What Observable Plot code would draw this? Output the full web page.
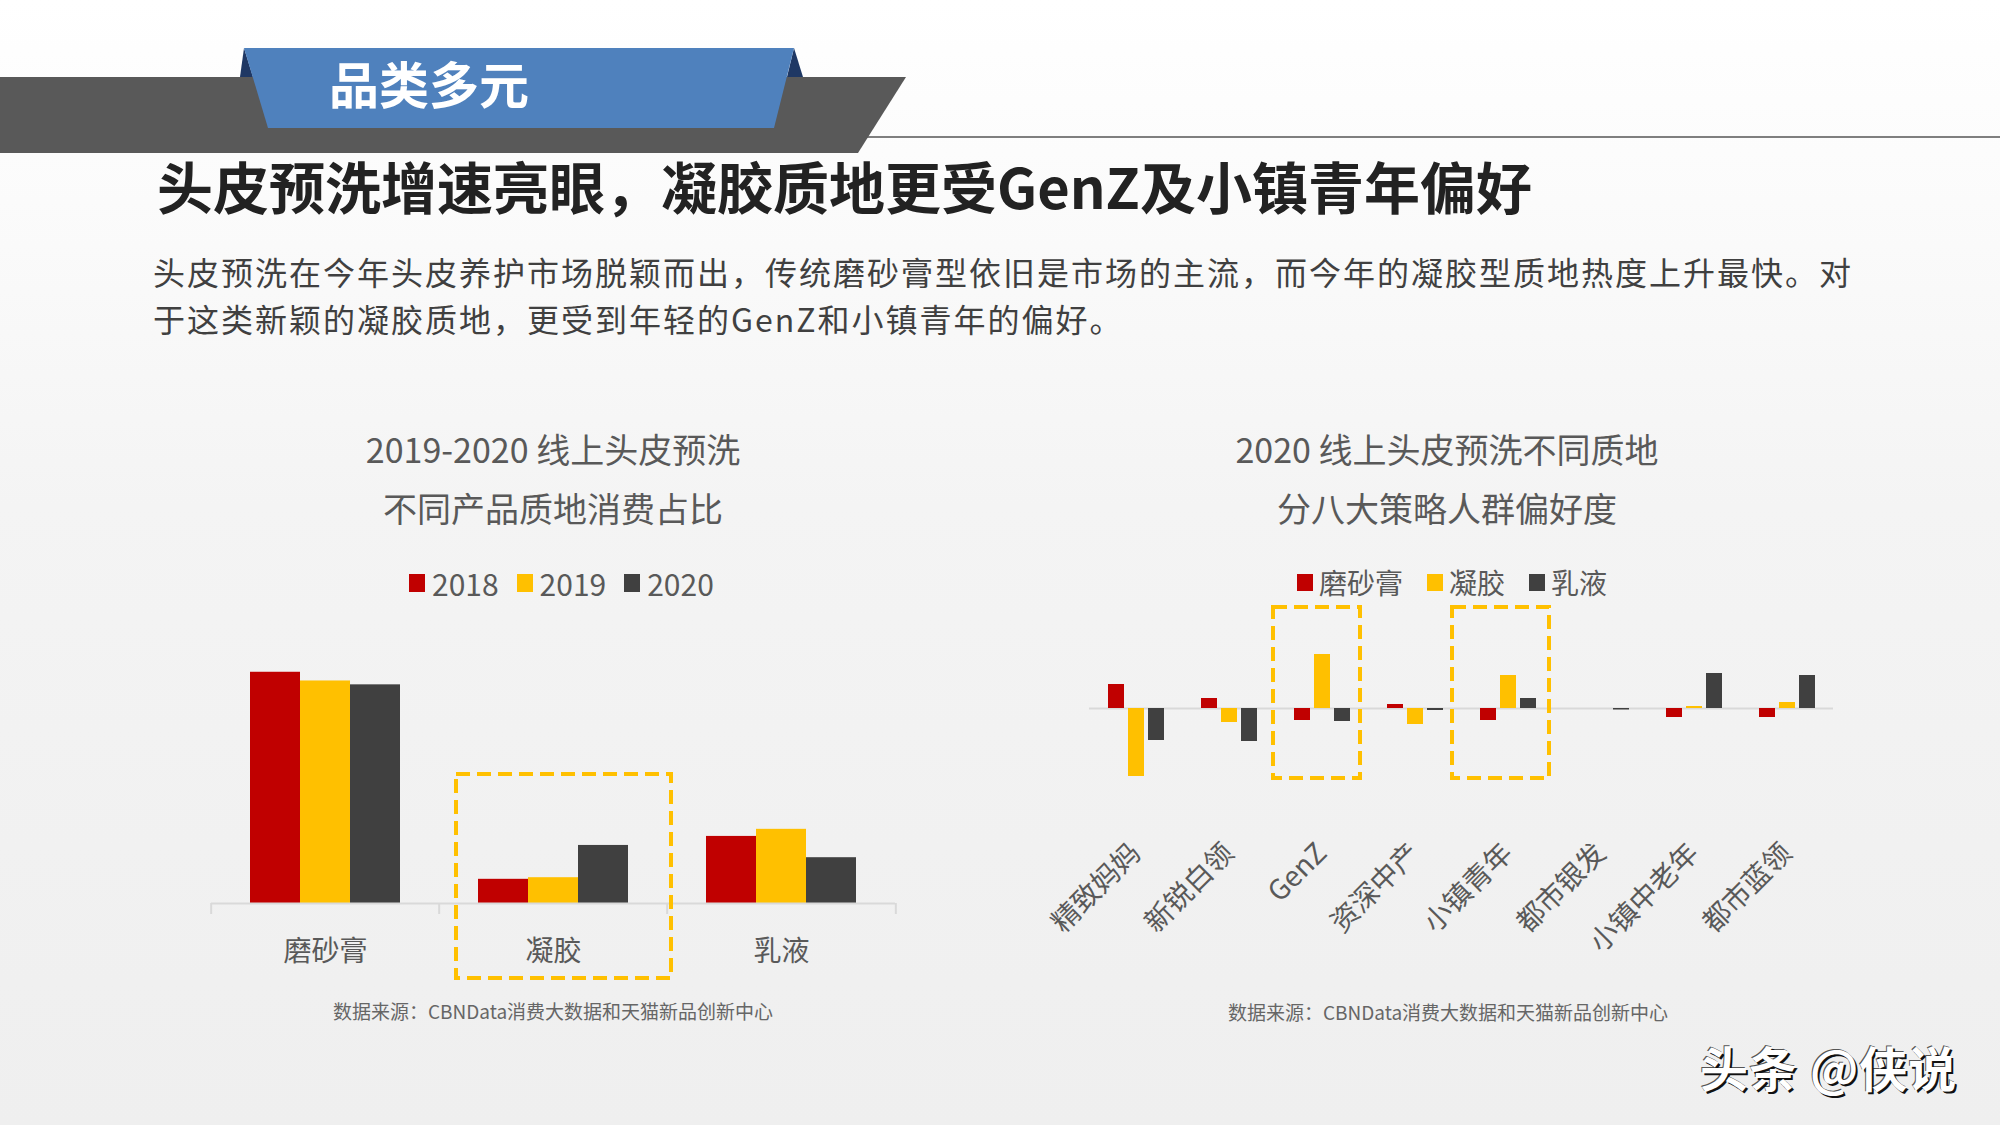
<!DOCTYPE html>
<html>
<head>
<meta charset="utf-8">
<script src="https://cdn.jsdelivr.net/npm/d3@7"></script>
<script src="https://cdn.jsdelivr.net/npm/@observablehq/plot@0.6"></script>
<style>
  html, body { margin: 0; padding: 0; }
  body { width: 2000px; height: 1125px; overflow: hidden; font-family: "Noto Sans CJK SC", "Noto Sans", sans-serif; }
  #page { position: relative; width: 2000px; height: 1125px; overflow: hidden;
          background: linear-gradient(to bottom, #ffffff 0%, #fbfbfb 18%, #f4f4f4 45%, #f1f1f1 75%, #efefef 100%); }
  .abs { position: absolute; }
  .banner-text { left: 329px; top: 52px; line-height: 60px; font-size: 50px; font-weight: 700; color: #ffffff; letter-spacing: 0px; }
  .headline { left: 157px; top: 150px; line-height: 70px; font-size: 56px; font-weight: 700; color: #222222; white-space: nowrap; }
  .para { left: 153px; line-height: 47px; font-size: 32px; letter-spacing: 2px; color: #404040; white-space: nowrap; }
  .ctitle { width: 640px; text-align: center; font-size: 34px; line-height: 59px; color: #595959; white-space: nowrap; }
  .legend { display: flex; align-items: center; height: 40px; }
  .legend .item { display: flex; align-items: center; }
  .legend .sw { display: inline-block; }
  .legend .lb { color: #595959; line-height: 40px; }
  .source { width: 640px; text-align: center; font-size: 19px; line-height: 26px; color: #666666; white-space: nowrap; }
  .mark { left: 1700px; top: 1036px; font-size: 48px; line-height: 60px; color: #ffffff; font-weight: 700; white-space: nowrap;
          text-shadow: 2px 2px 0 #111, -1px -1px 0 #555; letter-spacing: 1px; }
</style>
</head>
<body>
<div id="page">
  <svg class="abs" style="left:0;top:0" width="2000" height="170">
    <line x1="866" y1="137" x2="2000" y2="137" stroke="#7f7f7f" stroke-width="2"/>
    <polygon points="0,77 906,77 858,153 0,153" fill="#595959"/>
    <polygon points="244,48 240,77 253,77" fill="#1f3864"/>
    <polygon points="794,48 803,77 787,77" fill="#1f3864"/>
    <polygon points="244,48 794,48 774,128 268,128" fill="#4f81bd"/>
  </svg>
  <div class="abs banner-text">品类多元</div>
  <div class="abs headline">头皮预洗增速亮眼，凝胶质地更受GenZ及小镇青年偏好</div>
  <div class="abs para" style="top:248px;">头皮预洗在今年头皮养护市场脱颖而出，传统磨砂膏型依旧是市场的主流，而今年的凝胶型质地热度上升最快。对</div>
  <div class="abs para" style="top:295px;">于这类新颖的凝胶质地，更受到年轻的GenZ和小镇青年的偏好。</div>

  <div class="abs ctitle" style="left:233px; top:419px;">2019-2020 线上头皮预洗<br>不同产品质地消费占比</div>
  <div class="abs ctitle" style="left:1127px; top:419px;">2020 线上头皮预洗不同质地<br>分八大策略人群偏好度</div>

  <div class="abs legend" id="legendLeft" style="left:409px; top:563px; gap:18px;"></div>
  <div class="abs legend" id="legendRight" style="left:1297px; top:562px; gap:24px;"></div>

  <div class="abs" id="leftChart" style="left:160px; top:600px;"></div>
  <div class="abs" id="rightChart" style="left:1050px; top:590px;"></div>

  <div class="abs source" style="left:233px; top:998px;">数据来源：CBNData消费大数据和天猫新品创新中心</div>
  <div class="abs source" style="left:1128px; top:999px;">数据来源：CBNData消费大数据和天猫新品创新中心</div>

  <div class="abs mark">头条 @侠说</div>
</div>

<script>
// ---------------- data: left chart (consumption share, %) ----------------
const categories = ["磨砂膏", "凝胶", "乳液"];
const years = ["2018", "2019", "2020"];
const share2018 = [71.7, 7.5, 20.8];
const share2019 = [69.0, 8.0, 23.0];
const share2020 = [67.8, 18.0, 14.2];

// ---------------- data: right chart (preference index by group) ----------------
const groups = ["精致妈妈", "新锐白领", "GenZ", "资深中产", "小镇青年", "都市银发", "小镇中老年", "都市蓝领"];
const textures = ["磨砂膏", "凝胶", "乳液"];
const prefScrub  = [2.4, 1.0, -1.2, 0.4, -1.2, 0.0, -0.9, -0.9];
const prefGel    = [-6.8, -1.4, 5.4, -1.6, 3.3, 0.0, 0.2, 0.6];
const prefLotion = [-3.2, -3.3, -1.3, -0.2, 1.0, -0.15, 3.5, 3.3];

const palette = ["#C00000", "#FFC000", "#404040"];
const FONT = '"Noto Sans CJK SC", "Noto Sans", sans-serif';

// ---------------- build tables ----------------
const leftRows = [];
[share2018, share2019, share2020].forEach((arr, k) =>
  arr.forEach((v, i) => leftRows.push({cat: categories[i], year: years[k], value: v})));

const rightRows = [];
[prefScrub, prefGel, prefLotion].forEach((arr, k) =>
  arr.forEach((v, i) => rightRows.push({group: groups[i], texture: textures[k], value: v})));

// ---------------- legends ----------------
function legend(el, labels, sw, fontSize) {
  labels.forEach((t, i) => {
    const item = document.createElement("div");
    item.className = "item";
    const s = document.createElement("span");
    s.className = "sw";
    s.style.width = sw[0] + "px"; s.style.height = sw[1] + "px";
    s.style.marginRight = sw[2] + "px";
    s.style.background = palette[i];
    const l = document.createElement("span");
    l.className = "lb";
    l.style.fontSize = fontSize + "px";
    l.textContent = t;
    item.appendChild(s); item.appendChild(l);
    el.appendChild(item);
  });
}
legend(document.getElementById("legendLeft"), years, [16, 18, 7], 30);
legend(document.getElementById("legendRight"), textures, [16, 17, 6], 28);

// ---------------- left chart ----------------
const LW = 790, LML = 50, LMR = 54;
const lFacetW = (LW - LML - LMR) / categories.length;
const leftPlot = Plot.plot({
  width: LW, height: 380,
  marginLeft: LML, marginRight: LMR, marginTop: 20, marginBottom: 77,
  style: {background: "transparent", fontFamily: FONT, fontSize: "28px", color: "#595959", overflow: "visible"},
  fx: {domain: categories, padding: 0},
  x: {domain: years, paddingInner: 0, paddingOuter: 0.75, axis: null},
  y: {domain: [0, 87.75], axis: null},
  color: {domain: years, range: palette},
  marks: [
    Plot.barY(leftRows, {fx: "cat", x: "year", y: "value", fill: "year"}),
    Plot.ruleY([0], {stroke: "#d9d9d9", strokeWidth: 2}),
    Plot.ruleX(categories, {fx: d => d, x: null, y1: 0, y2: 0, insetBottom: -11, dx: -lFacetW / 2, stroke: "#d9d9d9", strokeWidth: 2}),
    Plot.ruleX(categories.slice(-1), {fx: d => d, x: null, y1: 0, y2: 0, insetBottom: -11, dx: lFacetW / 2, stroke: "#d9d9d9", strokeWidth: 2}),
    Plot.axisFx({anchor: "bottom", tickSize: 0, tickPadding: 38, fontSize: 28, label: null}),
    Plot.rect(["凝胶"], {fx: d => d, insetLeft: 17, insetRight: -4, insetTop: 154, insetBottom: -75,
      fill: "none", stroke: "#FFC000", strokeWidth: 4, strokeDasharray: "14,7"})
  ]
});
document.getElementById("leftChart").appendChild(leftPlot);

// ---------------- right chart ----------------
const RW = 850, RML = 38, RMR = 67;
const rightPlot = Plot.plot({
  width: RW, height: 400,
  marginLeft: RML, marginRight: RMR, marginTop: 10, marginBottom: 200,
  style: {background: "transparent", fontFamily: FONT, fontSize: "28px", color: "#595959", overflow: "visible"},
  fx: {domain: groups, padding: 0, axis: null},
  x: {domain: textures, paddingInner: 0.22, paddingOuter: 0.88, axis: null},
  y: {domain: [-8.2, 10.8], axis: null},
  color: {domain: textures, range: palette},
  marks: [
    Plot.ruleY([0], {stroke: "#d9d9d9", strokeWidth: 2}),
    Plot.barY(rightRows, {fx: "group", x: "texture", y: "value", fill: "texture"}),
    Plot.text(groups, {fx: d => d, text: d => d, frameAnchor: "bottom", rotate: -45,
      textAnchor: "end", lineAnchor: "middle", dx: 0, dy: 58, fontSize: 28, fill: "#595959"}),
    Plot.rect(["GenZ"], {fx: d => d, insetLeft: -2, insetRight: 8, insetTop: 7, insetBottom: 12,
      fill: "none", stroke: "#FFC000", strokeWidth: 4, strokeDasharray: "14,7"}),
    Plot.rect(["小镇青年"], {fx: d => d, insetLeft: -9, insetRight: 5, insetTop: 7, insetBottom: 12,
      fill: "none", stroke: "#FFC000", strokeWidth: 4, strokeDasharray: "14,7"})
  ]
});
document.getElementById("rightChart").appendChild(rightPlot);
</script>
</body>
</html>
